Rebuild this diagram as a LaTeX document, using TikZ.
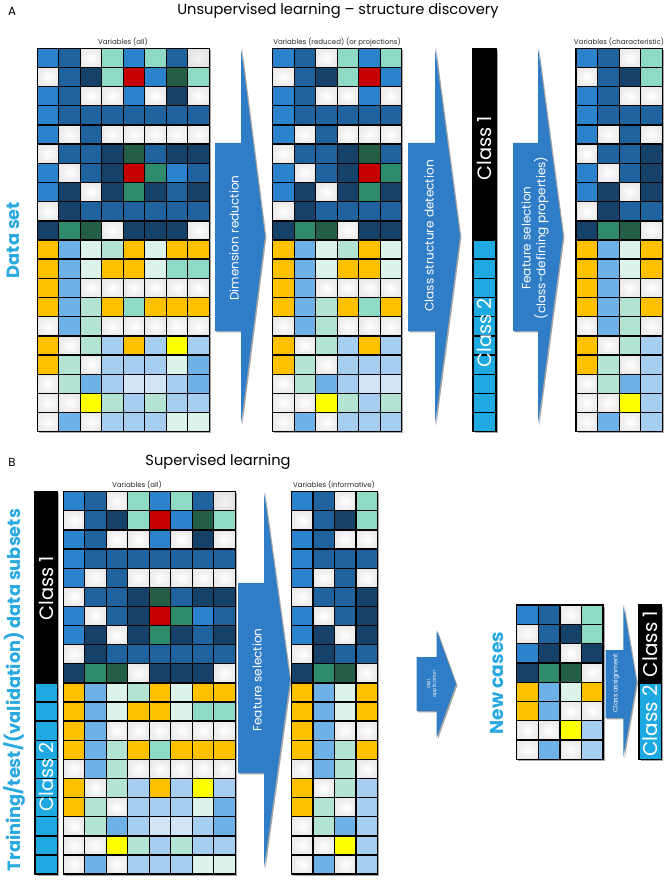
\documentclass[tikz,border=0pt]{standalone}
\usepackage{fontspec}
\setmainfont{Poppins}
\usepackage{xcolor}
\usepackage{tikz}
\usetikzlibrary{shadows}

\definecolor{bluebright}{RGB}{42,131,203}
\definecolor{bluemid}{RGB}{31,99,158}
\definecolor{bluedark}{RGB}{22,66,105}
\definecolor{tealpale}{RGB}{143,218,196}
\definecolor{redcell}{RGB}{196,0,0}
\definecolor{greendark}{RGB}{36,94,70}
\definecolor{greenmid}{RGB}{46,139,108}
\definecolor{amber}{RGB}{255,192,0}
\definecolor{bluesky}{RGB}{110,177,230}
\definecolor{bluepale}{RGB}{166,206,240}
\definecolor{blueice}{RGB}{210,229,246}
\definecolor{tealsoft}{RGB}{178,227,211}
\definecolor{tealice}{RGB}{220,243,236}
\definecolor{yellowcell}{RGB}{255,255,0}
\definecolor{classcyan}{RGB}{30,169,225}
\definecolor{labelcyan}{RGB}{41,169,224}
\definecolor{arrowblue}{RGB}{46,125,198}

\tikzset{
  cell/.style={draw=black, line width=1.15pt},
  cellB/.style={fill=bluebright},
  cellM/.style={fill=bluemid},
  cellD/.style={fill=bluedark},
  cellT/.style={fill=tealpale},
  cellR/.style={fill=redcell},
  cellE/.style={fill=greendark},
  cellF/.style={fill=greenmid},
  cellY/.style={fill=amber},
  cellL/.style={fill=bluesky},
  cellP/.style={fill=bluepale},
  cellQ/.style={fill=blueice},
  cellS/.style={fill=tealsoft},
  cellV/.style={fill=tealice},
  cellX/.style={fill=yellowcell},
  cellG/.style={inner color=black!4, outer color=black!11},
  cellW/.style={inner color=white, outer color=black!8},
  gridshadow/.style={drop shadow={shadow xshift=1.5pt, shadow yshift=-1.5pt, opacity=0.35, fill=black}}
}

% x0, y0, cell width, cell height, columns, rows, data
\newcommand{\cellgrid}[7]{%
  \fill[white, gridshadow] (#1,#2) rectangle ({#1+#5*#3},{#2+#6*#4});
  \foreach \rowvals [count=\r] in #7 {
    \foreach \v [count=\k] in \rowvals {
      \ifnum\k>#5\relax\else
        \draw[cell, cell\v] ({#1+(\k-1)*#3},{#2+(\r-1)*#4}) rectangle ++(#3,#4);
      \fi
    }
  }%
}

\begin{document}
\begin{tikzpicture}[
  x=0.03cm,
  y=-0.03cm,
  panel/.style={font=\fontsize{10}{12}\selectfont},
  heading/.style={font=\fontsize{12.5}{14}\selectfont},
  varlabel/.style={font=\fontsize{6}{7}\selectfont, text=black!85, inner sep=0pt},
  sidelabel/.style={rotate=90, text=labelcyan, inner sep=0pt, font=\fontsize{15.2}{17}\selectfont\bfseries},
  classtext/.style={rotate=90, text=white, inner sep=0pt, font=\fontsize{16.5}{18}\selectfont},
  arrowtext/.style={rotate=90, text=white, inner sep=0pt, align=center, font=\fontsize{10.3}{12.5}\selectfont},
  bigarrow/.style={fill=arrowblue, drop shadow={shadow xshift=1.2pt, shadow yshift=-1.2pt, opacity=0.35, fill=black}},
  classone/.style={draw=black, fill=black, line width=1.15pt},
  classtwo/.style={draw=black, fill=classcyan, line width=1.15pt}
]
  \useasboundingbox (0,0) rectangle (667,881);

  \def\allvars{{B,M,W,T,B,T,M,G},{W,M,D,T,R,B,E,T},{B,M,W,W,B,W,D,W},
    {B,M,M,M,M,M,M,M},{B,W,M,W,W,W,W,W},{W,M,M,D,E,M,D,D},{B,W,M,D,R,F,B,M},
    {B,D,W,D,F,D,M,D},{W,D,M,M,M,M,M,M},{D,F,E,W,D,D,D,W},{Y,L,V,S,Y,V,Y,Y},
    {Y,L,V,Y,Y,V,T,T},{Y,L,W,W,W,W,W,W},{Y,L,S,Y,T,Y,Y,Y},{W,L,S,W,W,W,W,W},
    {Y,W,S,P,Y,P,X,P},{Y,S,W,P,P,P,V,L},{W,S,L,P,Q,Q,P,L},{W,W,X,S,P,S,P,P},
    {W,L,W,P,P,P,V,V}}
  \def\keyvars{{B,M,W,T},{W,M,D,T},{B,M,W,W},{B,M,M,M},{B,W,M,W},{W,M,M,D},
    {B,W,M,D},{B,D,W,D},{W,D,M,M},{D,F,E,W},{Y,L,V,Y},{Y,L,V,Y},{Y,L,W,W},
    {Y,L,S,Y},{W,L,S,W},{Y,W,S,P},{Y,S,W,P},{W,S,L,P},{W,W,X,P},{W,L,W,P}}
  \def\newvars{{B,M,W,T},{W,M,D,T},{B,D,W,D},{D,F,E,W},{Y,L,V,Y},{Y,L,W,W},
    {W,W,X,P},{W,L,W,P}}

  % panel A
  \node[panel] (tagA) at (12,11) {A};
  \node[heading] (titleA) at (338,11) {Unsupervised learning -- structure discovery};
  \node[sidelabel] (dataset) at (13,240) {Data set};

  \node[varlabel] (varsall) at (123,42) {Variables (all)};
  \cellgrid{37.3}{48.3}{21.5}{19.17}{8}{20}{\allvars}

  \fill[bigarrow] (241,48) -- (265,236) -- (241,424) -- (241,331) -- (215,331) -- (215,143) -- (241,143) -- cycle;
  \node[arrowtext] (dimred) at (234,238) {Dimension reduction};

  \node[varlabel] (varsred) at (337,42) {Variables (reduced) (or projections)};
  \cellgrid{272.7}{48.3}{21.5}{19.17}{6}{20}{\allvars}

  \fill[bigarrow] (435,48) -- (460,236) -- (435,424) -- (435,331) -- (408,331) -- (408,143) -- (435,143) -- cycle;
  \node[arrowtext] (classdet) at (429,236) {Class structure detection};

  \fill[white, gridshadow] (473,48.3) rectangle (496,431.7);
  \draw[classone] (473,48.3) rectangle (496,240);
  \foreach \r in {11,...,20}
    \draw[classtwo] (473,{48.3+(\r-1)*19.17}) rectangle ++(23,19.17);
  \node[classtext] (topone) at (484.5,148) {Class 1};
  \node[classtext] (toptwo) at (484.5,333) {Class 2};

  \fill[bigarrow] (538,48) -- (563,236) -- (538,424) -- (538,331) -- (513,331) -- (513,143) -- (538,143) -- cycle;
  \node[arrowtext] (featsel) at (535,238) {Feature selection\\(class-defining properties)};

  \node[varlabel] (varschar) at (619,42) {Variables (characteristic)};
  \cellgrid{576}{48.3}{21.6}{19.17}{4}{20}{\keyvars}

  % panel B
  \node[panel] (tagB) at (12,462) {B};
  \node[heading] (titleB) at (218,462) {Supervised learning};
  \node[sidelabel] (subsets) at (14,690) {Training/test/(validation) data subsets};

  \fill[white, gridshadow] (35,491.7) rectangle (57.3,874);
  \draw[classone] (35,491.7) rectangle (57.3,682.9);
  \foreach \r in {11,...,20}
    \draw[classtwo] (35,{491.7+(\r-1)*19.12}) rectangle ++(22.3,19.12);
  \node[classtext] (botone) at (46.2,588) {Class 1};
  \node[classtext] (bottwo) at (46.2,777) {Class 2};

  \node[varlabel] (varsallb) at (137,485) {Variables (all)};
  \cellgrid{63.3}{491.7}{21.5}{19.12}{8}{20}{\allvars}

  \fill[bigarrow] (264,492) -- (290,680) -- (264,868) -- (264,773) -- (238,773) -- (238,583) -- (264,583) -- cycle;
  \node[arrowtext] (featselb) at (257,680) {Feature selection};

  \node[varlabel] (varsinfo) at (334,485) {Variables (informative)};
  \cellgrid{291.7}{491.7}{21.4}{19.12}{4}{20}{\keyvars}

  \fill[bigarrow] (436.5,630) -- (456,684) -- (436.5,738) -- (436.5,711) -- (416.7,711) -- (416.7,657) -- (436.5,657) -- cycle;
  \node[arrowtext, font=\fontsize{4}{4.6}\selectfont] (skill) at (432,684) {Skill\\application};

  \node[sidelabel, font=\fontsize{16}{18}\selectfont\bfseries] (newcases) at (497,683) {New cases};
  \cellgrid{516.7}{605}{21.6}{19.3}{4}{8}{\newvars}

  \fill[bigarrow] (623.3,605) -- (636.5,682) -- (623.3,757) -- (623.3,718) -- (605.7,718) -- (605.7,650) -- (623.3,650) -- cycle;
  \node[arrowtext, font=\fontsize{5.6}{6.5}\selectfont] (assign) at (616,683) {Class assignment};

  \fill[white, gridshadow] (639,605) rectangle (661.7,759.3);
  \draw[classone] (639,605) rectangle (661.7,683.3);
  \draw[classtwo] (639,683.3) rectangle (661.7,759.3);
  \node[classtext, font=\fontsize{17}{18}\selectfont] (newone) at (650.5,644) {Class 1};
  \node[classtext, font=\fontsize{17}{18}\selectfont] (newtwo) at (650.5,721) {Class 2};
\end{tikzpicture}
\end{document}
